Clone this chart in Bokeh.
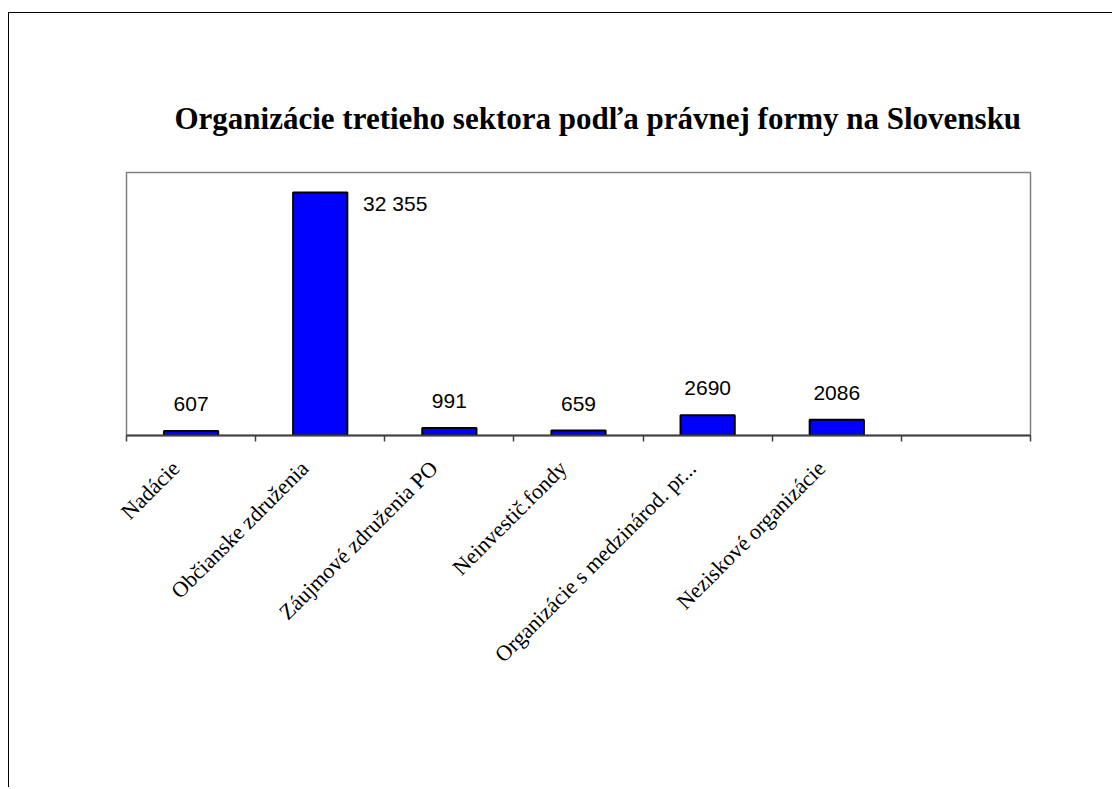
import math
from bokeh.plotting import figure
from bokeh.models import FixedTicker, Range1d, Title, ColumnDataSource
from bokeh.core.properties import value
from bokeh.embed import file_html
from bokeh.resources import INLINE

# ---- data ----
categories = [
    "Nadácie",
    "Občianske združenia",
    "Záujmové združenia PO",
    "Neinvestič.fondy",
    "Organizácie s medzinárod. pr...",
    "Neziskové organizácie",
]
counts = [607, 32355, 991, 659, 2690, 2086]
count_labels = ["607", "32 355", "991", "659", "2690", "2086"]
n_slots = 7          # the category axis has one empty slot at the end
y_max = 35000
title_text = "Organizácie tretieho sektora podľa právnej formy  na Slovensku"

xs = [i + 0.5 for i in range(len(categories))]
big = [c > 0.8 * y_max for c in counts]
src = ColumnDataSource(dict(
    x=xs, top=counts, lab=count_labels,
    dx=[75 if b else 0 for b in big],
    dy=[11 if b else -27 for b in big],
))

W, H = 1104, 775
FL, FR, FT, FB = 117, 1021, 159, 422   # frame edges inside the figure
p = figure(width=W, height=H, output_backend="svg", toolbar_location=None,
           x_range=Range1d(0, n_slots), y_range=Range1d(0, y_max),
           y_axis_location=None,
           min_border_left=FL, min_border_right=W - FR,
           min_border_top=FT, min_border_bottom=H - FB,
           background_fill_color="white", border_fill_color="white",
           styles={"border-left": "1px solid black", "border-top": "1px solid black",
                   "margin-top": "12px", "margin-left": "8px"})
p.xgrid.visible = False
p.ygrid.visible = False
p.outline_line_color = "#808080"
p.outline_line_width = 1.5

t = Title(text=title_text, text_font="Liberation Serif", text_font_size="31px",
          text_font_style="bold", text_color="black", align="left", offset=48, standoff=74)
p.add_layout(t, "above")

p.vbar(x="x", top="top", width=0.42, source=src, fill_color="#0000FF",
       line_color="black", line_width=2)
p.text(x="x", y="top", text="lab", source=src, x_offset="dx", y_offset="dy",
       text_align="center", text_baseline="alphabetic",
       text_font=value("Liberation Sans"), text_font_size="21px", text_color="black")

label_ticks = [x - 0.12 for x in xs]
ax = p.xaxis[0]
ax.ticker = FixedTicker(ticks=label_ticks, minor_ticks=list(range(n_slots + 1)))
ax.major_label_overrides = {x: c for x, c in zip(label_ticks, categories)}
ax.major_tick_out = 0
ax.major_tick_in = 0
ax.minor_tick_out = 6
ax.minor_tick_in = 0
ax.minor_tick_line_color = "#404040"
ax.minor_tick_line_width = 1.5
ax.axis_line_color = "#404040"
ax.axis_line_width = 2
ax.major_label_orientation = math.pi / 4
ax.major_label_standoff = 23
ax.major_label_text_font = "Liberation Serif"
ax.major_label_text_font_size = "22px"
ax.major_label_text_color = "black"

open("out.html", "w").write(file_html(p, INLINE))
